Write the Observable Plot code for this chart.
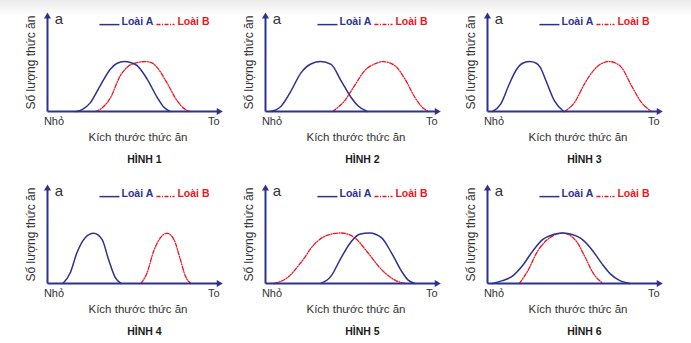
<!DOCTYPE html>
<html><head><meta charset="utf-8">
<script src="https://cdn.jsdelivr.net/npm/d3@7"></script>
<script src="https://cdn.jsdelivr.net/npm/@observablehq/plot@0.6"></script>
<style>
body{margin:0;width:691px;height:343px;overflow:hidden;position:relative;background:linear-gradient(#ebebeb 0px,#ffffff 16px,#ffffff 100%);font-family:"Liberation Sans",Arial,sans-serif}
.p{position:absolute}
</style></head><body>
<script>
// Figure titles
const titles = ["HÌNH 1","HÌNH 2","HÌNH 3","HÌNH 4","HÌNH 5","HÌNH 6"];
const yTitle = "Số lượng thức ăn";
const xTitle = "Kích thước thức ăn";
const xLow = "Nhỏ", xHigh = "To", cornerLabel = "a";
const speciesNames = ["Loài A","Loài B"];

// Species A curves (x: food size 0..100, y: amount 0..100)
const curveA1 = [[16.6,0],[20,2],[24.7,9],[30.5,27],[36.3,44],[40,50],[44.4,52],[48,51],[51.7,48],[57.5,34],[63.3,15],[67,5],[71,0]];
const curveA2 = [[2.9,0],[8.7,5],[14.6,21],[20.4,40],[26.2,49.5],[32,52],[37.9,49],[43.7,32],[49.5,14.6],[53.4,6],[58.8,0]];
const curveA3 = [[2.9,0],[7.7,8],[12.6,28.6],[16.5,43],[20,50],[24.2,52],[28,50.5],[30.5,46],[33.8,32],[38.7,11],[44.1,0]];
const curveA4 = [[8.9,0],[13.1,11],[17,32],[21.8,47.7],[26.6,52.3],[31.5,46],[35.3,25],[39.2,6],[42.5,0]];
const curveA5 = [[32,0],[37.9,7.7],[43.7,26.8],[49.5,43.5],[54.4,51.2],[60.2,52.6],[67,47.7],[72.8,32],[78.6,12.9],[82.5,3.5],[86.4,0]];
const curveA6 = [[2.9,0],[8.7,3],[14.6,8],[20.4,19],[26.2,34],[32,46],[37.9,51],[43.5,52.6],[49,51],[54,47],[60,36],[66,21],[71,10],[76,3.5],[82.2,0]];

// Species B curves
const curveB1 = [[27.6,0],[31,3],[36.3,14],[42,37],[46,46],[49.8,50],[56.6,52],[60,51],[63.3,46],[69,30],[75,11],[79,3],[82.6,0]];
const curveB2 = [[38.8,0],[45.6,11],[51.5,27],[57.3,42.5],[63.1,49.5],[68,52],[74.8,47.7],[80.6,33.8],[86.4,14.6],[90.3,5],[94.2,0]];
const curveB3 = [[44.5,0],[50.3,9.4],[56,28.6],[61.9,44],[66,50],[70.6,52],[74,50.5],[77.4,46],[83.2,27],[89,9.4],[94.8,0]];
const curveB4 = [[54,0],[57.5,11],[61.4,33.8],[65.3,47.7],[69.1,52.3],[73,46],[76.8,25],[79.7,7.7],[83,0]];
const curveB5 = [[4.9,0],[12.6,6],[20.4,21.6],[28.2,40.8],[36,50.5],[43.7,52.6],[51.5,47.7],[59.2,32],[67,14.6],[74.8,3.5],[80.6,0]];
const curveB6 = [[18.4,0],[23.2,12.9],[29,33.8],[34.8,46],[43.5,52.6],[51.3,44],[56.1,28.6],[61,11],[66.7,0]];

const curvesA = [curveA1,curveA2,curveA3,curveA4,curveA5,curveA6];
const curvesB = [curveB1,curveB2,curveB3,curveB4,curveB5,curveB6];

const BLUE = "#2d3190", RED = "#f0141c", TXT = "#333333";
const FONT = "'Liberation Sans', Arial, sans-serif";
const lefts = [0, 218, 440], tops = [0, 172];

const axes = [{x1:0,y1:0,x2:99,y2:0,r:90},{x1:0,y1:0,x2:0,y2:99,r:0}];

function panel(i){
  const a = curvesA[i].map(([x,y])=>({x,y}));
  const b = curvesB[i].map(([x,y])=>({x,y}));
  const fig = Plot.plot({
    width:230, height:172, marginLeft:47, marginRight:10, marginTop:15, marginBottom:61,
    x:{domain:[0,100], axis:null}, y:{domain:[0,100], axis:null},
    style:{background:"transparent", fontFamily:FONT, overflow:"visible"},
    marks:[
      Plot.line(b,{x:"x",y:"y",curve:"monotone-x",stroke:RED,strokeWidth:1.3,strokeDasharray:"4,1.5,1,1.5"}),
      Plot.line(a,{x:"x",y:"y",curve:"monotone-x",stroke:BLUE,strokeWidth:1.5}),
      Plot.link(axes,{x1:"x1",y1:"y1",x2:"x2",y2:"y2",stroke:BLUE,strokeWidth:2}),
      Plot.dot(axes,{x:"x2",y:"y2",rotate:"r",symbol:"triangle",r:2.6,fill:BLUE,stroke:null}),
      // legend
      Plot.link([speciesNames[0]],{x1:30,x2:41.6,y1:90.5,y2:90.5,stroke:BLUE,strokeWidth:1.5}),
      Plot.text([speciesNames[0]],{x:42.8,y:93.5,textAnchor:"start",fill:BLUE,fontSize:10.5,fontWeight:"bold"}),
      Plot.link([speciesNames[1]],{x1:63,x2:73.4,y1:90.5,y2:90.5,stroke:RED,strokeWidth:1.5,strokeDasharray:"4,1.5,1,1.5"}),
      Plot.text([speciesNames[1]],{x:75.1,y:93.5,textAnchor:"start",fill:RED,fontSize:10.5,fontWeight:"bold"}),
      // labels
      Plot.text([cornerLabel],{x:6.6,y:96,fontSize:15,fill:TXT}),
      Plot.text([yTitle],{x:-9.2,y:51,rotate:-90,fontSize:12,fill:TXT}),
      Plot.text([xLow],{x:0,y:0,dx:6.5,dy:10,fontSize:11,fill:TXT}),
      Plot.text([xHigh],{x:100,y:0,dx:-1,dy:10,textAnchor:"end",fontSize:11,fill:TXT}),
      Plot.text([xTitle],{x:52.3,y:0,dy:26,fontSize:11.5,fill:TXT}),
      Plot.text([titles[i]],{x:56,y:0,dy:48,fontSize:10.5,fontWeight:"bold",fill:"#1a1a1a"})
    ]
  });
  const div = document.createElement("div");
  div.className = "p";
  div.style.left = lefts[i%3] + "px";
  div.style.top = tops[Math.floor(i/3)] + "px";
  div.appendChild(fig);
  document.body.appendChild(div);
}
for (let i=0;i<6;i++) panel(i);
</script>
</body></html>
